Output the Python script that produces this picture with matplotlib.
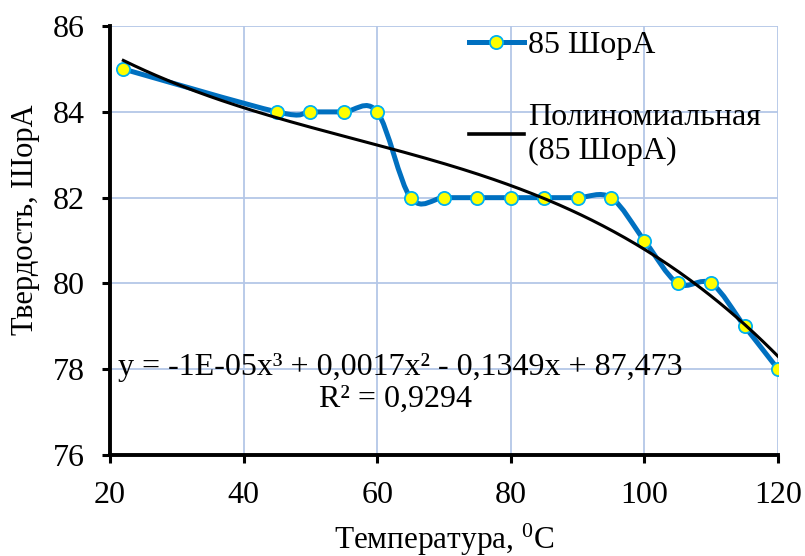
import numpy as np
import matplotlib
matplotlib.use("Agg")
import matplotlib.pyplot as plt
from matplotlib.path import Path
from matplotlib.patches import PathPatch
from matplotlib.lines import Line2D

temps = [22, 45, 50, 55, 60, 65, 70, 75, 80, 85, 90, 95, 100, 105, 110, 115, 120]
hardness = [85, 84, 84, 84, 84, 82, 82, 82, 82, 82, 82, 82, 81, 80, 80, 79, 78]
series_label = "85 ШорА"
trend_label = "Полиномиальная\n(85 ШорА)"
x_ticks = [20, 40, 60, 80, 100, 120]
y_ticks = [76, 78, 80, 82, 84, 86]
equation = "y = -1E-05x³ + 0,0017x² - 0,1349x + 87,473"
r2_text = "R² = 0,9294"

plt.rcParams['font.family'] = ['Liberation Serif', 'DejaVu Serif']
plt.rcParams['mathtext.fontset'] = 'custom'
plt.rcParams['mathtext.rm'] = 'Liberation Serif'
plt.rcParams['mathtext.it'] = 'Liberation Serif:italic'

BLUE = '#0070C0'
GRID = '#B4C7E7'

fig = plt.figure(figsize=(8.05, 5.56), dpi=100)
ax = fig.add_axes([0.1366, 0.1817, 0.8299, 0.7713])
ax.set_xlim(20, 120)
ax.set_ylim(76, 86)
ax.set_xticks(x_ticks)
ax.set_yticks(y_ticks)
ax.grid(True, color=GRID, linewidth=1.3)
ax.set_axisbelow(True)
for s in ['top', 'right']:
    ax.spines[s].set_visible(False)
for s in ['left', 'bottom']:
    ax.spines[s].set_linewidth(2.8)
ax.tick_params(axis='both', direction='out', length=6, width=2.2, labelsize=23)
ax.tick_params(axis='y', pad=12)
ax.tick_params(axis='x', pad=13)

# smoothed series line (Catmull-Rom style Bezier through data points)
xs = np.array(temps, float)
ys = np.array(hardness, float)
pts = np.column_stack([xs, ys])
verts = [tuple(pts[0])]
codes = [Path.MOVETO]
t = 1.0 / 6.0
n = len(pts)
for i in range(n - 1):
    p0 = pts[i - 1] if i > 0 else pts[i]
    p1 = pts[i]
    p2 = pts[i + 1]
    p3 = pts[i + 2] if i + 2 < n else pts[i + 1]
    c1 = p1 + (p2 - p0) * t
    c2 = p2 - (p3 - p1) * t
    verts += [tuple(c1), tuple(c2), tuple(p2)]
    codes += [Path.CURVE4] * 3
patch = PathPatch(Path(verts, codes), facecolor='none', edgecolor=BLUE, linewidth=3.6,
                  capstyle='round', joinstyle='round', zorder=3)
ax.add_patch(patch)
ax.plot(temps, hardness, linestyle='none', marker='o', markersize=9.5,
        markerfacecolor='#FFFF00', markeredgecolor='#00B0F0', markeredgewidth=1.3, zorder=4)

# cubic trend line
coef = np.polyfit(xs, ys, 3)
xt = np.linspace(xs.min(), xs.max(), 300)
ax.plot(xt, np.polyval(coef, xt), color='black', linewidth=2.2, zorder=5)

ax.text(0.012, 0.205, equation, transform=ax.transAxes, fontsize=23, ha='left', va='center')
ax.text(0.427, 0.13, r2_text, transform=ax.transAxes, fontsize=23, ha='center', va='center')

ax.set_xlabel("Температура, $^{0}$C", fontsize=22.5)
ax.xaxis.set_label_coords(0.5, -0.155)
ax.set_ylabel("Твердость, ШорА", fontsize=22)
ax.yaxis.set_label_coords(-0.105, 0.548)

handles = [
    Line2D([], [], color=BLUE, linewidth=3.6, marker='o', markersize=9.5,
           markerfacecolor='#FFFF00', markeredgecolor='#00B0F0', markeredgewidth=1.3),
    Line2D([], [], color='black', linewidth=2.6),
]
leg = ax.legend(handles, [series_label, trend_label], loc='upper left',
                bbox_to_anchor=(0.583, 0.945), bbox_transform=fig.transFigure,
                frameon=False, fontsize=23, handlelength=1.7, handletextpad=0.15,
                labelspacing=1.35, borderaxespad=0, borderpad=0)

fig.savefig('out.png', dpi=100)
